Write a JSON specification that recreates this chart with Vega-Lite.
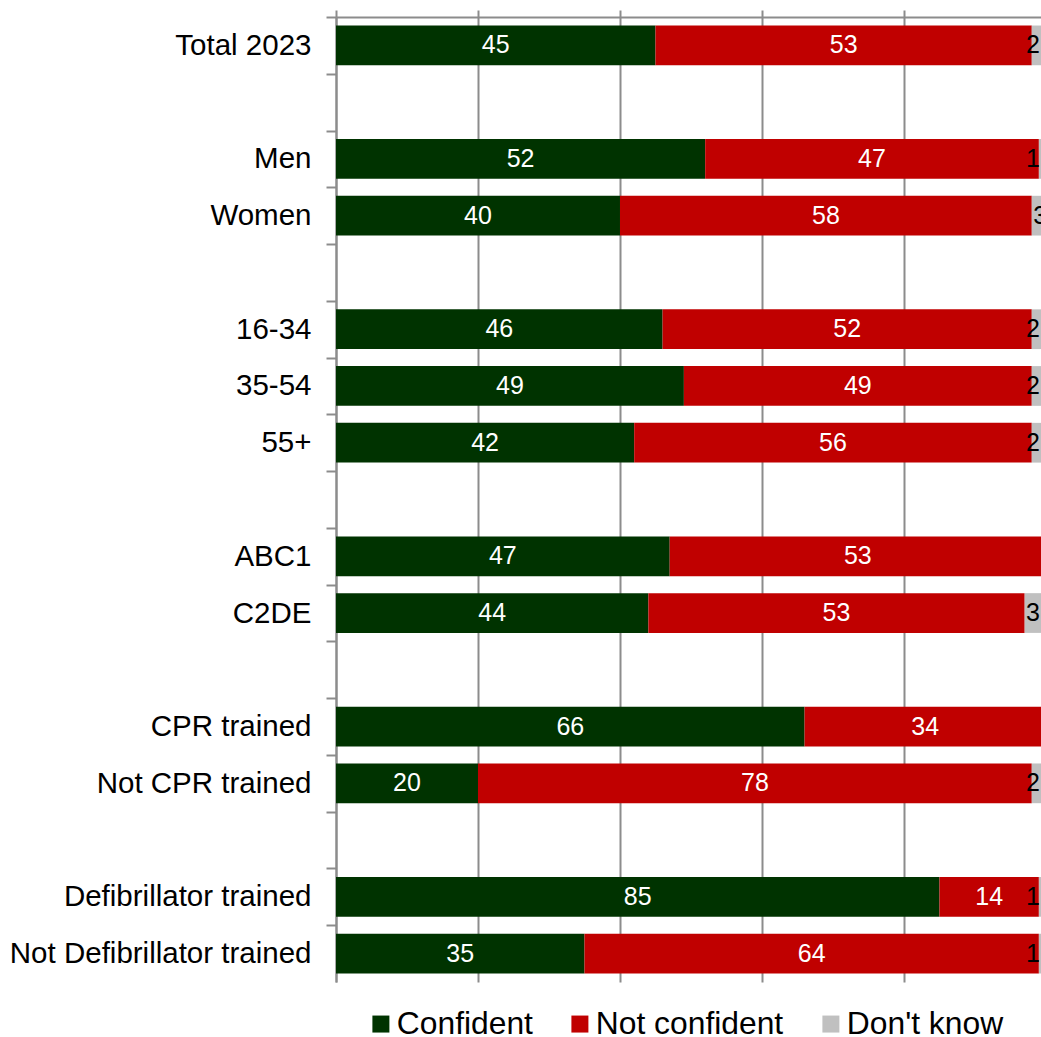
{
  "$schema": "https://vega.github.io/schema/vega-lite/v6.json",
  "autosize": "none",
  "width": 705,
  "height": 965,
  "padding": {"left": 336, "top": 17, "right": 0, "bottom": 55},
  "config": {"view": {"stroke": null}, "font": "Liberation Sans"},
  "data": {
    "values": [
      {"segment": "Total 2023", "response": "Confident", "rank": 1, "pct": 45},
      {"segment": "Total 2023", "response": "Not confident", "rank": 2, "pct": 53},
      {"segment": "Total 2023", "response": "Don't know", "rank": 3, "pct": 2},
      {"segment": "Men", "response": "Confident", "rank": 1, "pct": 52},
      {"segment": "Men", "response": "Not confident", "rank": 2, "pct": 47},
      {"segment": "Men", "response": "Don't know", "rank": 3, "pct": 1},
      {"segment": "Women", "response": "Confident", "rank": 1, "pct": 40},
      {"segment": "Women", "response": "Not confident", "rank": 2, "pct": 58},
      {"segment": "Women", "response": "Don't know", "rank": 3, "pct": 3},
      {"segment": "16-34", "response": "Confident", "rank": 1, "pct": 46},
      {"segment": "16-34", "response": "Not confident", "rank": 2, "pct": 52},
      {"segment": "16-34", "response": "Don't know", "rank": 3, "pct": 2},
      {"segment": "35-54", "response": "Confident", "rank": 1, "pct": 49},
      {"segment": "35-54", "response": "Not confident", "rank": 2, "pct": 49},
      {"segment": "35-54", "response": "Don't know", "rank": 3, "pct": 2},
      {"segment": "55+", "response": "Confident", "rank": 1, "pct": 42},
      {"segment": "55+", "response": "Not confident", "rank": 2, "pct": 56},
      {"segment": "55+", "response": "Don't know", "rank": 3, "pct": 2},
      {"segment": "ABC1", "response": "Confident", "rank": 1, "pct": 47},
      {"segment": "ABC1", "response": "Not confident", "rank": 2, "pct": 53},
      {"segment": "C2DE", "response": "Confident", "rank": 1, "pct": 44},
      {"segment": "C2DE", "response": "Not confident", "rank": 2, "pct": 53},
      {"segment": "C2DE", "response": "Don't know", "rank": 3, "pct": 3},
      {"segment": "CPR trained", "response": "Confident", "rank": 1, "pct": 66},
      {"segment": "CPR trained", "response": "Not confident", "rank": 2, "pct": 34},
      {"segment": "Not CPR trained", "response": "Confident", "rank": 1, "pct": 20},
      {"segment": "Not CPR trained", "response": "Not confident", "rank": 2, "pct": 78},
      {"segment": "Not CPR trained", "response": "Don't know", "rank": 3, "pct": 2},
      {"segment": "Defibrillator trained", "response": "Confident", "rank": 1, "pct": 85},
      {"segment": "Defibrillator trained", "response": "Not confident", "rank": 2, "pct": 14},
      {"segment": "Defibrillator trained", "response": "Don't know", "rank": 3, "pct": 1},
      {"segment": "Not Defibrillator trained", "response": "Confident", "rank": 1, "pct": 35},
      {"segment": "Not Defibrillator trained", "response": "Not confident", "rank": 2, "pct": 64},
      {"segment": "Not Defibrillator trained", "response": "Don't know", "rank": 3, "pct": 1}
    ]
  },
  "encoding": {
    "y": {
      "field": "segment",
      "type": "nominal",
      "scale": {
        "domain": ["Total 2023", " ", "Men", "Women", "  ", "16-34", "35-54", "55+", "   ", "ABC1", "C2DE", "    ", "CPR trained", "Not CPR trained", "     ", "Defibrillator trained", "Not Defibrillator trained"],
        "paddingInner": 0.3,
        "paddingOuter": 0.15
      },
      "axis": {
        "title": null,
        "labelFontSize": 29.5,
        "labelLimit": 500,
        "labelColor": "#000000",
        "labelPadding": 15,
        "tickOffset": -28.382,
        "labelOffset": 28.382,
        "tickSize": 10,
        "tickColor": "#8c8c8c",
        "tickWidth": 2,
        "domainColor": "#8c8c8c",
        "domainWidth": 2,
        "grid": false
      }
    },
    "x": {
      "field": "pct",
      "type": "quantitative",
      "stack": "zero",
      "scale": {"domain": [0, 99.3], "nice": false},
      "axis": {
        "orient": "top",
        "title": null,
        "labels": false,
        "values": [0, 20, 40, 60, 80],
        "tickSize": 7,
        "tickColor": "#8c8c8c",
        "tickWidth": 2,
        "domainColor": "#8c8c8c",
        "domainWidth": 2,
        "grid": true,
        "gridColor": "#8c8c8c",
        "gridWidth": 2
      }
    },
    "order": {"field": "rank", "type": "quantitative", "sort": "ascending"},
    "color": {
      "field": "response",
      "type": "nominal",
      "scale": {"domain": ["Confident", "Not confident", "Don't know"], "range": ["#003300", "#C00000", "#C0C0C0"]},
      "legend": {
        "orient": "none",
        "legendX": 29,
        "legendY": 991,
        "direction": "horizontal",
        "title": null,
        "symbolType": "square",
        "symbolSize": 289,
        "symbolStrokeWidth": 0,
        "labelFontSize": 31.8,
        "labelLimit": 400,
        "labelColor": "#000000",
        "labelOffset": 0,
        "columnPadding": 31
      }
    }
  },
  "layer": [
    {"mark": {"type": "bar", "clip": true}},
    {
      "mark": {"type": "text", "clip": true, "fontSize": 25, "baseline": "middle", "align": "center"},
      "encoding": {
        "x": {"field": "pct", "type": "quantitative", "stack": "zero", "bandPosition": 0.5},
        "text": {"condition": {"test": "datum.rank === 3", "value": ""}, "field": "pct", "type": "quantitative"},
        "fill": {"value": "#ffffff"}
      }
    },
    {
      "mark": {"type": "text", "clip": true, "fontSize": 25, "baseline": "middle", "align": "right", "dx": -6},
      "encoding": {
        "x": {"field": "pct", "type": "quantitative", "stack": "zero", "bandPosition": 1},
        "text": {"condition": {"test": "datum.rank < 3", "value": ""}, "field": "pct", "type": "quantitative"},
        "fill": {"value": "#000000"}
      }
    }
  ]
}
